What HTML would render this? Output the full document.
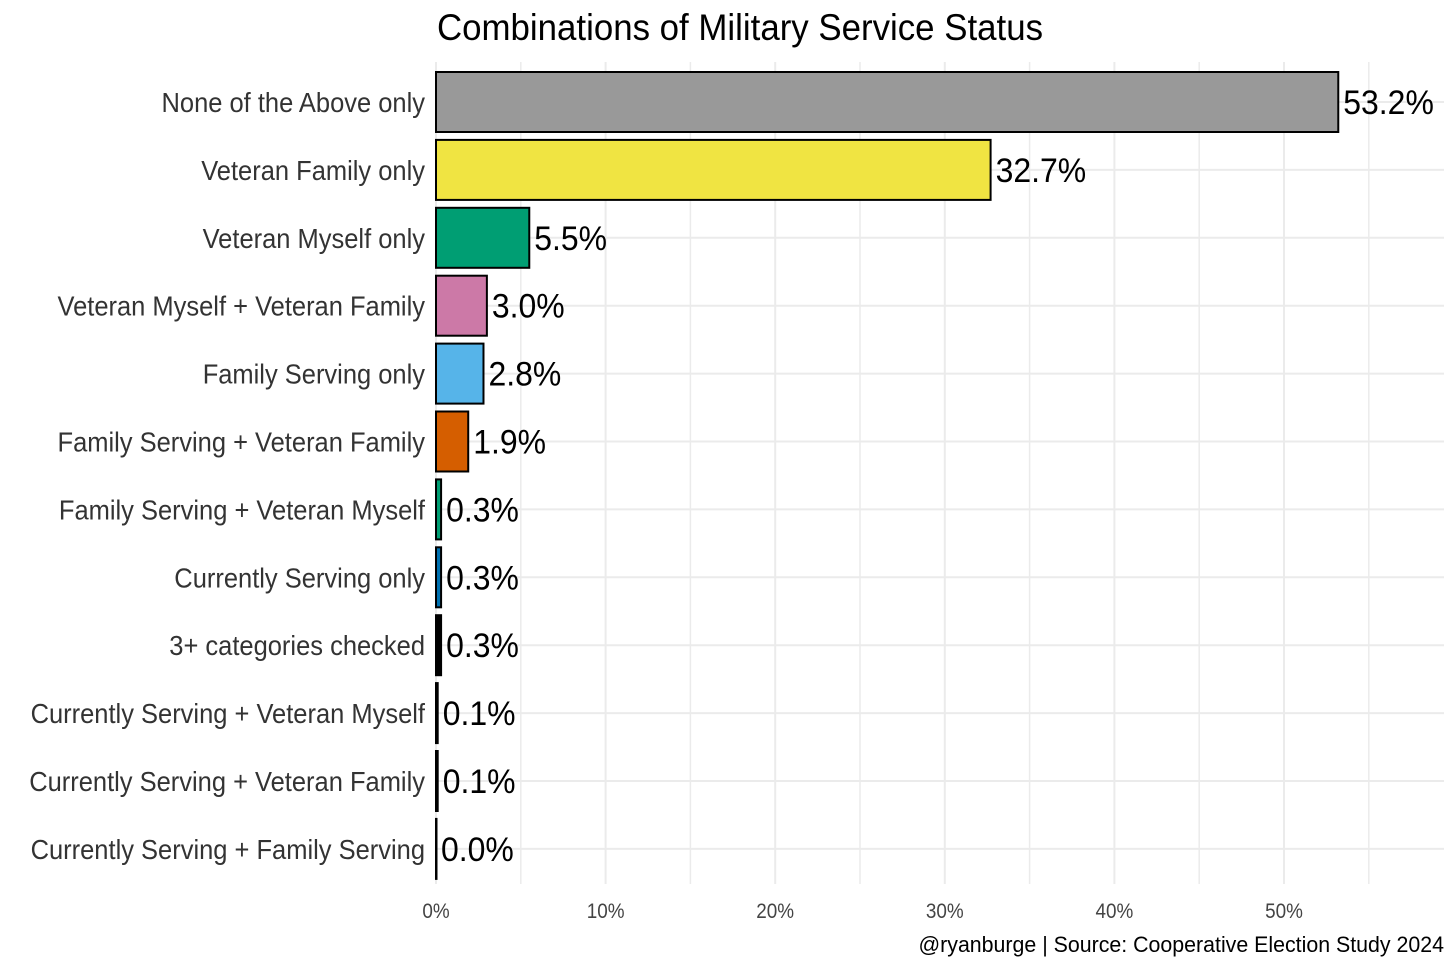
<!DOCTYPE html>
<html><head><meta charset="utf-8">
<style>
html,body{margin:0;padding:0;background:#fff;}
svg{display:block;font-family:"Liberation Sans Narrow","Liberation Sans",sans-serif;}
</style></head>
<body>
<svg id="chart" width="1456" height="970" viewBox="0 0 1456 970">
<text x="437" y="40" font-size="37" fill="#000" textLength="606" lengthAdjust="spacingAndGlyphs">Combinations of Military Service Status</text>
<g id="grid"></g>
<g id="bars"></g>
<g id="ylabels"></g>
<g id="xticks"></g>
<text id="cap" x="1444" y="952" font-size="22" text-anchor="end" fill="#000">@ryanburge | Source: Cooperative Election Study 2024</text>
</svg>
<script>
const categories = ["None of the Above only","Veteran Family only","Veteran Myself only","Veteran Myself + Veteran Family","Family Serving only","Family Serving + Veteran Family","Family Serving + Veteran Myself","Currently Serving only","3+ categories checked","Currently Serving + Veteran Myself","Currently Serving + Veteran Family","Currently Serving + Family Serving"];
const values = [53.2,32.7,5.5,3.0,2.8,1.9,0.3,0.3,0.3,0.1,0.1,0.0];
const colors = ["#999999","#F0E442","#009E73","#CC79A7","#56B4E9","#D55E00","#009E73","#0072B2","#000000","#000000","#000000","#000000"];
const xTicks = [0,10,20,30,40,50];
const NS="http://www.w3.org/2000/svg";
const x0=436, pxPer=16.96, yTop=102, step=67.9, barH=60, plotRight=1444, plotTop=62, plotBottom=884;
const xs=v=>x0+v*pxPer;
const ys=i=>yTop+i*step;
function mk(tag,attrs,parent){const e=document.createElementNS(NS,tag);for(const k in attrs)e.setAttribute(k,attrs[k]);parent.appendChild(e);return e;}
function squeeze(t,f){const w=t.getComputedTextLength();t.setAttribute('textLength',(w*f).toFixed(1));t.setAttribute('lengthAdjust','spacingAndGlyphs');}
const grid=document.getElementById('grid');
for(let v=0;v<=60;v+=5){
  const x=xs(v); if(x>plotRight)break;
  const l=mk('line',{x1:x,x2:x,y1:plotTop,y2:plotBottom,stroke:"#ebebeb","stroke-width":v%10===0?2:1.5},grid);
  
  
}
categories.forEach((c,i)=>{
  const l=mk('line',{x1:x0,x2:plotRight,y1:ys(i),y2:ys(i),stroke:"#ebebeb","stroke-width":2},grid);
  
  
});
const bars=document.getElementById('bars');
const yl=document.getElementById('ylabels');
categories.forEach((c,i)=>{
  const w=values[i]*pxPer;
  const r=mk('rect',{x:x0,y:ys(i)-barH/2,width:Math.max(w,0.5),height:barH,fill:colors[i],stroke:"#000","stroke-width":2},bars);
  
  
  const t=mk('text',{x:x0+w+5,y:ys(i)+12,"font-size":34,fill:"#000"},bars);
  t.textContent=values[i].toFixed(1)+"%";
  
  
  squeeze(t,0.94);
  const lab=mk('text',{x:425,y:ys(i)+10,"font-size":28,fill:"#333","text-anchor":"end"},yl);
  lab.textContent=c;
  
  
  squeeze(lab,0.91);
});
const xt=document.getElementById('xticks');
xTicks.forEach(v=>{
  const t=mk('text',{x:xs(v),y:918,"font-size":21,fill:"#444","text-anchor":"middle"},xt);
  t.textContent=v+"%";
  
  
  squeeze(t,0.9);
});
squeeze(document.getElementById('cap'),0.97);
</script>
</body></html>
